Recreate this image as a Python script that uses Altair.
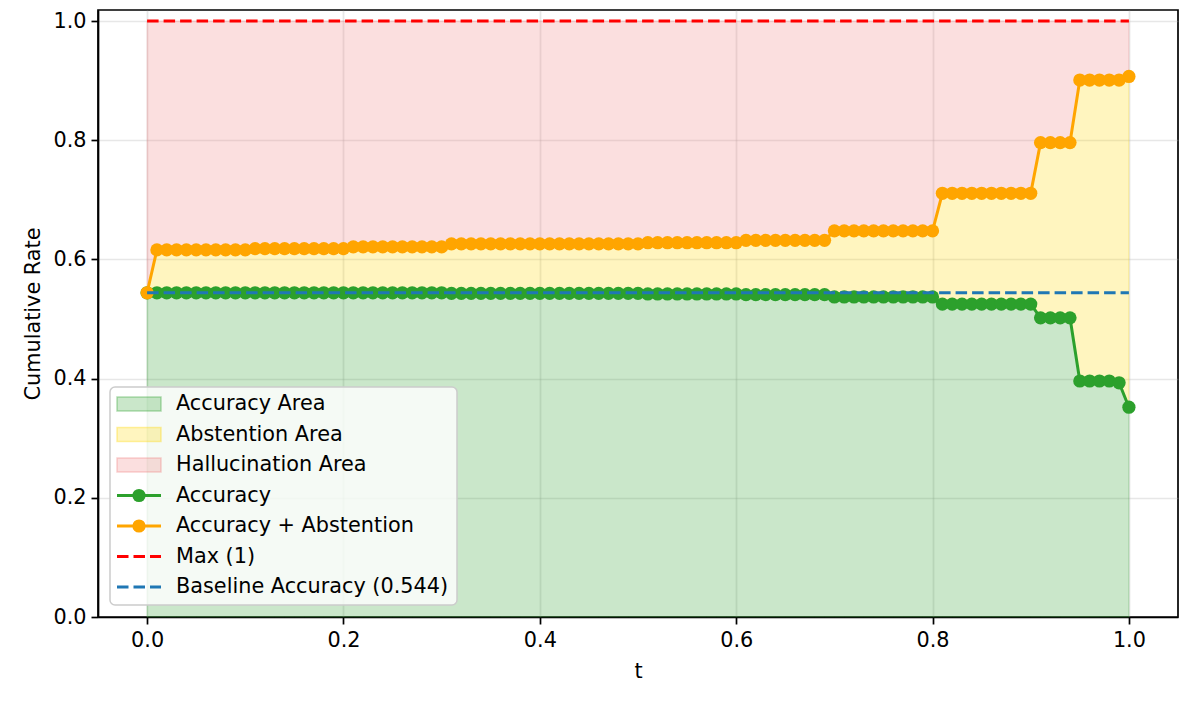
import altair as alt
import pandas as pd

# ---------------- data ----------------
T = [0.00, 0.01, 0.02, 0.03, 0.04, 0.05, 0.06, 0.07, 0.08, 0.09,
     0.10, 0.11, 0.12, 0.13, 0.14, 0.15, 0.16, 0.17, 0.18, 0.19,
     0.20, 0.21, 0.22, 0.23, 0.24, 0.25, 0.26, 0.27, 0.28, 0.29,
     0.30, 0.31, 0.32, 0.33, 0.34, 0.35, 0.36, 0.37, 0.38, 0.39,
     0.40, 0.41, 0.42, 0.43, 0.44, 0.45, 0.46, 0.47, 0.48, 0.49,
     0.50, 0.51, 0.52, 0.53, 0.54, 0.55, 0.56, 0.57, 0.58, 0.59,
     0.60, 0.61, 0.62, 0.63, 0.64, 0.65, 0.66, 0.67, 0.68, 0.69,
     0.70, 0.71, 0.72, 0.73, 0.74, 0.75, 0.76, 0.77, 0.78, 0.79,
     0.80, 0.81, 0.82, 0.83, 0.84, 0.85, 0.86, 0.87, 0.88, 0.89,
     0.90, 0.91, 0.92, 0.93, 0.94, 0.95, 0.96, 0.97, 0.98, 0.99,
     1.00]

ACCURACY = [0.544, 0.544, 0.544, 0.544, 0.544, 0.544, 0.544, 0.544, 0.544, 0.544,
            0.544, 0.544, 0.544, 0.544, 0.544, 0.544, 0.544, 0.544, 0.544, 0.544,
            0.544, 0.544, 0.544, 0.544, 0.544, 0.544, 0.544, 0.544, 0.544, 0.544,
            0.544, 0.543, 0.543, 0.543, 0.543, 0.543, 0.543, 0.543, 0.543, 0.543,
            0.543, 0.543, 0.543, 0.543, 0.543, 0.543, 0.543, 0.543, 0.543, 0.543,
            0.543, 0.542, 0.542, 0.542, 0.542, 0.542, 0.542, 0.542, 0.542, 0.542,
            0.542, 0.541, 0.541, 0.541, 0.541, 0.541, 0.541, 0.541, 0.541, 0.541,
            0.537, 0.537, 0.537, 0.537, 0.537, 0.537, 0.537, 0.537, 0.537, 0.537,
            0.537, 0.525, 0.525, 0.525, 0.525, 0.525, 0.525, 0.525, 0.525, 0.525,
            0.525, 0.502, 0.502, 0.502, 0.502, 0.396, 0.396, 0.396, 0.396, 0.393,
            0.352]

ACC_PLUS_ABST = [0.544, 0.616, 0.616, 0.616, 0.616, 0.616, 0.616, 0.616, 0.616, 0.616,
                 0.616, 0.618, 0.618, 0.618, 0.618, 0.618, 0.618, 0.618, 0.618, 0.618,
                 0.618, 0.621, 0.621, 0.621, 0.621, 0.621, 0.621, 0.621, 0.621, 0.621,
                 0.621, 0.626, 0.626, 0.626, 0.626, 0.626, 0.626, 0.626, 0.626, 0.626,
                 0.626, 0.626, 0.626, 0.626, 0.626, 0.626, 0.626, 0.626, 0.626, 0.626,
                 0.626, 0.628, 0.628, 0.628, 0.628, 0.628, 0.628, 0.628, 0.628, 0.628,
                 0.628, 0.632, 0.632, 0.632, 0.632, 0.632, 0.632, 0.632, 0.632, 0.632,
                 0.648, 0.648, 0.648, 0.648, 0.648, 0.648, 0.648, 0.648, 0.648, 0.648,
                 0.648, 0.711, 0.711, 0.711, 0.711, 0.711, 0.711, 0.711, 0.711, 0.711,
                 0.711, 0.796, 0.796, 0.796, 0.796, 0.901, 0.901, 0.901, 0.901, 0.901,
                 0.907]

MAX_VALUE = 1.0
BASELINE = 0.544
X_TICKS = [0.0, 0.2, 0.4, 0.6, 0.8, 1.0]
Y_TICKS = [0.0, 0.2, 0.4, 0.6, 0.8, 1.0]
LEGEND_LABELS = ["Accuracy Area", "Abstention Area", "Hallucination Area",
                 "Accuracy", "Accuracy + Abstention", "Max (1)",
                 "Baseline Accuracy (0.544)"]

# ---------------- styles ----------------
GREEN = "#2ca02c"
GOLD = "#ffd700"
CORAL = "#f08080"
ORANGE = "#ffa500"
RED = "#ff0000"
BLUE = "#1f77b4"
FONT = "DejaVu Sans"
FS = 20.8
LW = 3
DASH = [11.5, 5]
MSIZE = 175

PLOT_W, PLOT_H = 1080, 607

df = pd.DataFrame({"t": T, "acc": ACCURACY, "accabs": ACC_PLUS_ABST})

x_scale = alt.Scale(domain=[-0.05, 1.05], nice=False, zero=False)
y_scale = alt.Scale(domain=[0, 1.0185], nice=False, zero=False)
x_axis = alt.Axis(values=X_TICKS, format=".1f", title="t")
y_axis = alt.Axis(values=Y_TICKS, format=".1f", title="Cumulative Rate")

x_enc = alt.X("t:Q", scale=x_scale, axis=x_axis)

base = alt.Chart(df)

area_green = base.mark_area(fill=GREEN, fillOpacity=0.25, stroke=GREEN,
                            strokeOpacity=0.25, strokeWidth=1).encode(
    x=x_enc, y=alt.Y("acc:Q", scale=y_scale, axis=y_axis), y2=alt.datum(0))
area_gold = base.mark_area(fill=GOLD, fillOpacity=0.25, stroke=GOLD,
                           strokeOpacity=0.25, strokeWidth=1).encode(
    x=x_enc, y=alt.Y("accabs:Q", scale=y_scale, axis=y_axis), y2="acc:Q")
area_red = base.mark_area(fill=CORAL, fillOpacity=0.25, stroke=CORAL,
                          strokeOpacity=0.25, strokeWidth=1).encode(
    x=x_enc, y=alt.Y("accabs:Q", scale=y_scale, axis=y_axis), y2=alt.datum(MAX_VALUE))

line_acc = base.mark_line(color=GREEN, strokeWidth=LW,
                          point=alt.OverlayMarkDef(filled=True, size=MSIZE, color=GREEN, opacity=1)).encode(
    x=x_enc, y=alt.Y("acc:Q", scale=y_scale, axis=y_axis))
line_accabs = base.mark_line(color=ORANGE, strokeWidth=LW,
                             point=alt.OverlayMarkDef(filled=True, size=MSIZE, color=ORANGE, opacity=1)).encode(
    x=x_enc, y=alt.Y("accabs:Q", scale=y_scale, axis=y_axis))

ref_df = pd.DataFrame({"t0": [T[0]], "t1": [T[-1]], "mx": [MAX_VALUE], "bl": [BASELINE]})
rule_max = alt.Chart(ref_df).mark_rule(color=RED, strokeWidth=LW, strokeDash=DASH).encode(
    x=alt.X("t0:Q", scale=x_scale, axis=x_axis), x2="t1:Q",
    y=alt.Y("mx:Q", scale=y_scale, axis=y_axis))
rule_base = alt.Chart(ref_df).mark_rule(color=BLUE, strokeWidth=LW, strokeDash=DASH).encode(
    x=alt.X("t0:Q", scale=x_scale, axis=x_axis), x2="t1:Q",
    y=alt.Y("bl:Q", scale=y_scale, axis=y_axis))

main = alt.layer(area_green, area_gold, area_red, line_acc, line_accabs, rule_max, rule_base)

# ---------------- legend (drawn in pixel space) ----------------
leg_df = pd.DataFrame({"label": LEGEND_LABELS})
leg_colors = alt.Scale(domain=LEGEND_LABELS,
                       range=[GREEN, GOLD, CORAL, GREEN, ORANGE, RED, BLUE])
leg_y = alt.Y("label:N", scale=alt.Scale(type="point", domain=LEGEND_LABELS,
                                          range=[394, 577], padding=0), axis=None)

legend_box = alt.Chart(alt.Data(values=[{}])).mark_rect(
    fill="white", fillOpacity=0.8, stroke="#cccccc", strokeWidth=1.5, cornerRadius=5).encode(
    x=alt.value(12), x2=alt.value(359), y=alt.value(377), y2=alt.value(595))

leg = alt.Chart(leg_df)
patch_path = "M-1,-0.318H1V0.318H-1Z"
leg_patch = leg.mark_point(shape=patch_path, size=1936, filled=True, fillOpacity=0.25,
                           strokeOpacity=0.35, strokeWidth=1.5).encode(
    x=alt.value(41), y=leg_y,
    fill=alt.Fill("label:N", scale=leg_colors, legend=None),
    stroke=alt.Stroke("label:N", scale=leg_colors, legend=None)).transform_filter(
    alt.FieldOneOfPredicate(field="label", oneOf=LEGEND_LABELS[0:3]))
leg_line = leg.mark_rule(strokeWidth=LW).encode(
    x=alt.value(19), x2=alt.value(63), y=leg_y,
    color=alt.Color("label:N", scale=leg_colors, legend=None)).transform_filter(
    alt.FieldOneOfPredicate(field="label", oneOf=LEGEND_LABELS[3:5]))
leg_marker = leg.mark_point(filled=True, size=MSIZE, opacity=1).encode(
    x=alt.value(41), y=leg_y,
    color=alt.Color("label:N", scale=leg_colors, legend=None)).transform_filter(
    alt.FieldOneOfPredicate(field="label", oneOf=LEGEND_LABELS[3:5]))
leg_dash = leg.mark_rule(strokeWidth=LW, strokeDash=DASH).encode(
    x=alt.value(19), x2=alt.value(63), y=leg_y,
    color=alt.Color("label:N", scale=leg_colors, legend=None)).transform_filter(
    alt.FieldOneOfPredicate(field="label", oneOf=LEGEND_LABELS[5:7]))
leg_text = leg.mark_text(align="left", baseline="middle", font=FONT, fontSize=FS,
                         color="black").encode(
    x=alt.value(78), y=leg_y, text="label:N")

legend = alt.layer(legend_box, leg_patch, leg_line, leg_marker, leg_dash, leg_text)

chart = alt.layer(main, legend).resolve_scale(y="independent").properties(
    width=PLOT_W, height=PLOT_H,
    autosize=alt.AutoSizeParams(type="none"),
    padding={"left": 90, "top": 2, "right": 14, "bottom": 70},
).configure_view(stroke="black", strokeWidth=1.7).configure_axis(
    labelFont=FONT, titleFont=FONT, labelFontSize=FS, titleFontSize=FS,
    titleFontWeight="normal", labelColor="black", titleColor="black",
    domainColor="black", domainWidth=1.7, tickColor="black", tickSize=7, tickWidth=1.7,
    gridColor="#b0b0b0", gridOpacity=0.3, gridWidth=1.7, labelPadding=5,
).configure_axisX(titlePadding=12, labelPadding=6).configure_axisY(titlePadding=9)

chart.save("out.html", embed_options={"renderer": "svg", "actions": False})
